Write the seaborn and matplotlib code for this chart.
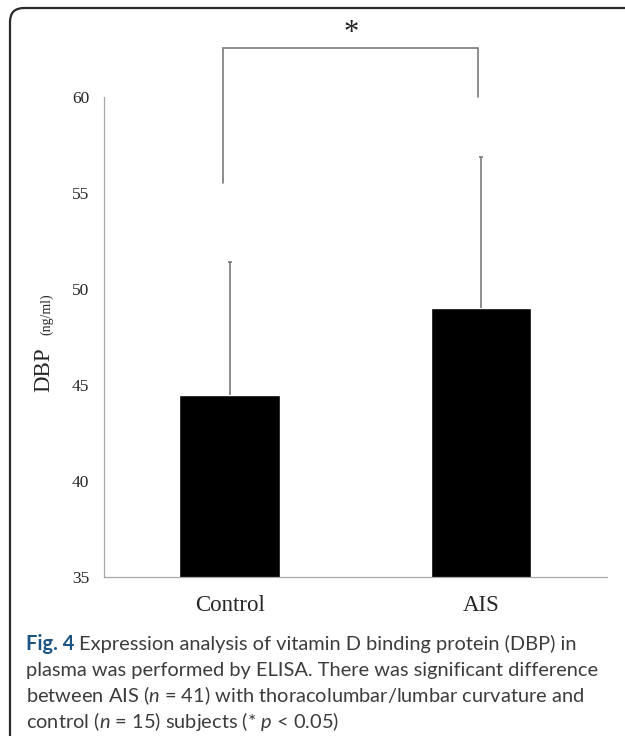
import matplotlib
matplotlib.use("Agg")
import matplotlib.pyplot as plt
from matplotlib.patches import FancyBboxPatch
from matplotlib.transforms import IdentityTransform
import seaborn as sns
import pandas as pd

# values
groups = ["Control", "AIS"]
means = [44.5, 49.0]
sds = [6.9, 7.85]
yticks = [35, 40, 45, 50, 55, 60]
# significance bracket: left leg bottom, bar height, right leg bottom
bracket = [55.5, 62.55, 60.0]
star_y = 63.3

caption = [
    "plasma was performed by ELISA. There was significant difference",
    "between AIS ($n$ = 41) with thoracolumbar/lumbar curvature and",
    "control ($n$ = 15) subjects (* $p$ < 0.05)",
]

sns.set_style("white")
plt.rcParams["mathtext.fontset"] = "custom"
plt.rcParams["mathtext.rm"] = "Lato"
plt.rcParams["mathtext.it"] = "Lato:italic"

W, H = 625, 736
fig = plt.figure(figsize=(W / 100, H / 100), dpi=100)
ax = fig.add_axes([104 / W, 159 / H, 502.5 / W, 576 / H])

df = pd.DataFrame({"group": groups, "mean": means})
sns.barplot(data=df, x="group", y="mean", color="black", width=0.4,
            saturation=1, errorbar=None, ax=ax)
eb = ax.errorbar(x=[0, 1], y=means, yerr=[[0, 0], sds], fmt="none",
                 ecolor="#7a7a7a", elinewidth=1.2, capsize=1.5, capthick=1.2)
# only the upper caps, as in the original
eb[1][0].set_visible(False)

ax.set_xlim(-0.5, 1.5)
ax.set_ylim(35, 65)
ax.set_yticks(yticks)
ax.set_xlabel("")
ax.set_ylabel("")

axis_col = "#a8a8a8"
for s in ["top", "right"]:
    ax.spines[s].set_visible(False)
for s in ["left", "bottom"]:
    ax.spines[s].set_color(axis_col)
    ax.spines[s].set_linewidth(0.9)
ax.spines["left"].set_bounds(35, 60)

ax.tick_params(axis="y", direction="out", length=4.5, width=0.9, color=axis_col,
               pad=6, labelsize=12.5, labelcolor="#262626")
ax.tick_params(axis="x", which="major", length=0, pad=13, labelsize=16.5,
               labelcolor="#262626")
ax.set_xticks([0.5], minor=True)
ax.tick_params(axis="x", which="minor", direction="out", length=4, width=0.9,
               color=axis_col)
for lab in ax.get_xticklabels() + ax.get_yticklabels():
    lab.set_family("Liberation Serif")

# significance bracket
ax.plot([-0.025, -0.025, 0.99, 0.99], bracket[:1] + bracket[1:2] * 2 + bracket[2:],
        color="#7a7a7a", lw=1.2, clip_on=False, solid_joinstyle="miter")
ax.text(0.483, star_y, "*", ha="center", va="center", fontsize=22,
        family="Liberation Serif", color="#262626", clip_on=False)

# y label: DBP (ng/ml)
fig.text(44 / W, 1 - 370 / H, "DBP", rotation=90, ha="center", va="center",
         fontsize=16.5, family="Liberation Serif", color="#262626")
fig.text(47 / W, 1 - 314 / H, "(ng/ml)", rotation=90, ha="center", va="center",
         fontsize=10, family="Liberation Serif", color="#262626")

# caption
cap_col = "#3c3c3c"
x0 = 26 / W
base = [650, 676, 702, 728]
fs = 14.4
t = fig.text(x0, 1 - base[0] / H, "Fig. 4", fontsize=fs, family="Lato",
             weight="bold", color="#1b5585", va="baseline")
fig.canvas.draw()
bb = t.get_window_extent()
fig.text((bb.x1 + 5) / W, 1 - base[0] / H,
         "Expression analysis of vitamin D binding protein (DBP) in",
         fontsize=fs, family="Lato", color=cap_col, va="baseline")
for line, b in zip(caption, base[1:]):
    fig.text(x0, 1 - b / H, line, fontsize=fs, family="Lato", color=cap_col,
             va="baseline")

# rounded frame, cut by the right and bottom edges
frame = FancyBboxPatch((10, -30), 700, H - 8 + 30,
                       boxstyle="round,pad=0,rounding_size=14",
                       transform=IdentityTransform(), fill=False,
                       ec="#2a2a2a", lw=1.6)
fig.add_artist(frame)

fig.savefig("out.png", dpi=100)
